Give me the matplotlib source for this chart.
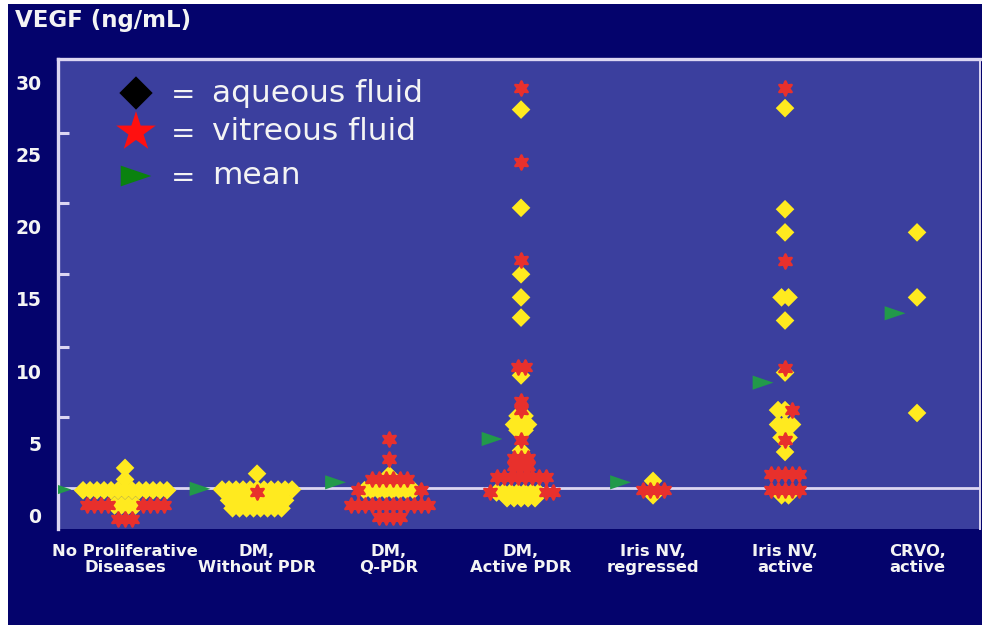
import matplotlib
matplotlib.use("Agg")
import matplotlib.pyplot as plt
from matplotlib.patches import Rectangle
import numpy as np

# ---- data -----------------------------------------------------------------
groups = ["No Proliferative\nDiseases", "DM,\nWithout PDR", "DM,\nQ-PDR",
          "DM,\nActive PDR", "Iris NV,\nregressed", "Iris NV,\nactive",
          "CRVO,\nactive"]

# VEGF (ng/mL) in aqueous fluid, one list per group
aqueous = [
    [3.3, 2.5] + [1.75] * 13 + [0.7] * 4,
    [2.9] + [1.8] * 11 + [1.05] * 9 + [0.5] * 8,
    [2.8] + [1.75] * 8,
    [28.1, 21.3, 16.7, 15.1, 13.7, 9.7, 6.9, 6.9, 6.3, 6.3, 6.3, 5.9, 5.9,
     4.5] + [1.6] * 7 + [1.2] * 5,
    [2.4, 1.4],
    [28.2, 21.2, 19.6, 15.1, 15.1, 13.5, 9.9, 7.3, 7.3, 6.3, 6.3, 6.3,
     5.4, 5.4, 4.4, 1.4, 1.4],
    [19.6, 15.1, 7.1],
]

# VEGF (ng/mL) in vitreous fluid, one list per group
vitreous = [
    [0.7] * 8 + [-0.25] * 3,
    [1.6],
    [5.3, 3.9] + [2.5] * 6 + [1.75] * 2 + [0.7] * 12 + [-0.1] * 4,
    [29.6, 24.5, 17.7, 10.3, 10.3, 7.9, 7.3, 5.2] + [4.0] * 3 + [3.4] * 3
    + [2.7] * 8 + [1.6] * 3,
    [1.8] * 4,
    [29.6, 17.6, 10.2, 7.3, 5.2] + [2.9] * 5 + [1.8] * 5,
    [],
]

means = [1.8, 1.85, 2.3, 5.3, 2.3, 9.2, 14.0]
reference_level = 1.93

y_ticks = [0, 5, 10, 15, 20, 25, 30]
y_minor = [6.8, 11.7, 16.7, 21.6, 26.5]

# ---- styling --------------------------------------------------------------
NAVY = "#04036c"
PANEL = "#3b3f9e"
LINE = "#dcd6f2"
YELLOW = "#ffea1f"
RED = "#e8302c"
GREEN = "#22994a"
TEXT = "#f4f4f4"

STEP = 7 / 132.0          # horizontal spacing of stacked markers (data units)


def swarm(aq, vit, step=STEP):
    """Lay equal values side by side in a row: aqueous in the centre,
    vitreous filling the outer slots."""
    values = sorted(set(aq) | set(vit))
    ax_off, vx_off = {}, {}
    for v in values:
        na, nv = aq.count(v), vit.count(v)
        n = na + nv
        slots = [(k - (n - 1) / 2.0) * step for k in range(n)]
        slots.sort(key=lambda s: (abs(s), s))
        ax_off[v] = slots[:na]
        vx_off[v] = slots[na:]
    xa = [ax_off[v].pop(0) for v in aq]
    xv = [vx_off[v].pop(0) for v in vit]
    rows = {v: (aq.count(v) + vit.count(v)) for v in values}
    return np.array(xa), np.array(xv), rows


fig = plt.figure(figsize=(9.82, 6.25), dpi=100, facecolor="white")
fig.patches.append(Rectangle((8 / 982, 0), 1 - 8 / 982, 1 - 4 / 625,
                             transform=fig.transFigure, facecolor=NAVY,
                             edgecolor="none", zorder=-10))

ax = fig.add_axes([58 / 982, 1 - 529 / 625, (980 - 58) / 982, (529 - 59) / 625])
ax.set_facecolor(PANEL)
ax.set_xlim(-0.508, 6.477)
ax.set_ylim(-0.93, 31.6)

# reference level across the whole panel
ax.axhline(reference_level, color=LINE, lw=2.0, zorder=2)

star6 = (6, 1, 0)
tri = [(-1, 0.68), (1, 0), (-1, -0.68)]

for i, (aq, vit, m) in enumerate(zip(aqueous, vitreous, means)):
    xa, xv, rows = swarm(aq, vit)
    if len(aq):
        ax.scatter(i + xa, aq, marker="D", s=90, color=YELLOW,
                   edgecolors="none", zorder=3)
    if len(vit):
        ax.scatter(i + xv, vit, marker=star6, s=105, color=RED,
                   edgecolors=RED, linewidths=1.8, zorder=4)
    # mean arrow sits just left of the nearby part of the cluster
    near = [n for v, n in rows.items() if abs(v - m) <= 1.5]
    half = max([(n - 1) / 2.0 * STEP for n in near] + [0])
    ax.scatter(i - half - 22 / 132.0, m, marker=tri, s=15 ** 2,
               color=GREEN, edgecolors="none", zorder=5)

# axes frame
ax.spines["bottom"].set_visible(False)
ax.spines["left"].set_color(LINE)
ax.spines["left"].set_linewidth(2.4)
ax.spines["top"].set_color(LINE)
ax.spines["top"].set_linewidth(2.4)
ax.spines["right"].set_color(LINE)
ax.spines["right"].set_linewidth(1.4)

ax.set_yticks(y_ticks)
ax.set_yticklabels([str(t) for t in y_ticks], fontsize=13.5,
                   fontweight="bold", color=TEXT)
ax.set_yticks(y_minor, minor=True)
ax.tick_params(axis="y", which="major", length=0, pad=12)
ax.tick_params(axis="y", which="minor", direction="in", length=8,
               width=2.2, color=LINE)

ax.set_xticks(range(len(groups)))
ax.set_xticklabels(groups, fontsize=11.8, fontweight="bold", color=TEXT,
                   linespacing=1.05)
ax.tick_params(axis="x", length=0, pad=11)

fig.text(15 / 982, 1 - 21 / 625, "VEGF (ng/mL)", fontsize=16.5,
         fontweight="bold", color=TEXT, va="center", ha="left")

# key in the upper-left corner of the panel
def px(x, y):
    return ((x - 58) / 922.0, (529 - y) / 470.0)

key = [("D", "black", 24 ** 2 / 2.0, 93, "aqueous fluid"),
       ("*", "#ff1010", 30 ** 2, 132, "vitreous fluid"),
       (tri, "#0a820f", 22 ** 2, 176, "mean")]
for mk, col, size, yc, label in key:
    ax.scatter(*px(136, yc), marker=mk, s=size, color=col,
               edgecolors="none", transform=ax.transAxes, zorder=6,
               clip_on=False)
    ax.text(*px(171, yc + 2), "=", fontsize=21, color=TEXT,
            transform=ax.transAxes, va="center", ha="left")
    ax.text(*px(212, yc), label, fontsize=22.5, color=TEXT,
            transform=ax.transAxes, va="center", ha="left")

fig.savefig("out.png", dpi=100, facecolor=fig.get_facecolor())
